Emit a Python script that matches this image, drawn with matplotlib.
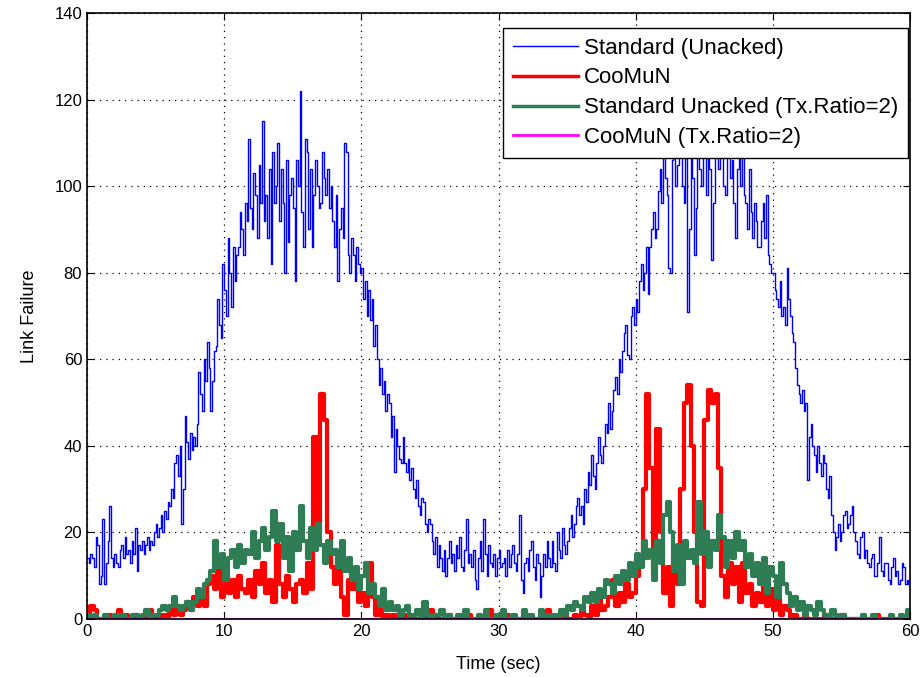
import numpy as np
import matplotlib
matplotlib.use('Agg')
import matplotlib.pyplot as plt

# Standard (Unacked): samples every 0.125 s, 0 .. 59.875 s (one row = 5 s)
standard = [14, 13, 15, 14, 12, 19, 17, 8, 10, 23, 8, 13, 18, 26, 14, 12, 15, 13, 12, 16, 17, 14, 19, 15,
            16, 13, 18, 15, 21, 11, 17, 16, 18, 15, 17, 19, 16, 18, 17, 20,
            22, 19, 21, 24, 20, 25, 23, 27, 26, 30, 28, 36, 38, 33, 40, 22, 30, 47, 41, 37, 43, 39, 42, 40,
            45, 57, 52, 48, 60, 55, 64, 58, 48, 55, 62, 63, 74, 68, 65, 82,
            76, 70, 88, 80, 72, 86, 78, 84, 86, 94, 90, 84, 96, 92, 111, 95, 90, 103, 98, 88, 105, 96, 115, 92,
            98, 88, 104, 82, 108, 96, 100, 110, 92, 104, 96, 80, 106, 87, 98, 102,
            95, 78, 106, 100, 122, 94, 86, 111, 108, 90, 104, 86, 98, 106, 100, 95, 96, 108, 102, 98, 104, 95, 100, 92,
            86, 98, 78, 90, 95, 88, 110, 108, 84, 80, 88, 84, 78, 86, 82, 80,
            81, 74, 78, 70, 76, 69, 74, 63, 68, 60, 54, 58, 52, 55, 48, 52, 50, 42, 47, 34, 44, 40, 37, 36,
            42, 36, 34, 37, 32, 35, 30, 28, 32, 26, 24, 28, 27, 22, 20, 23,
            22, 18, 15, 19, 12, 17, 14, 11, 16, 10, 14, 18, 13, 15, 11, 17, 14, 19, 12, 11, 16, 23, 13, 15,
            12, 16, 9, 7, 14, 18, 11, 23, 15, 10, 17, 13, 12, 15, 10, 14,
            16, 12, 13, 14, 10, 16, 12, 15, 17, 13, 11, 15, 24, 9, 6, 13, 14, 11, 16, 18, 12, 9, 15, 13,
            5, 10, 15, 12, 18, 14, 12, 18, 13, 11, 20, 16, 14, 21, 17, 15,
            18, 21, 24, 19, 22, 26, 28, 24, 26, 22, 30, 27, 34, 31, 38, 33, 30, 36, 42, 38, 36, 40, 45, 43,
            50, 44, 48, 53, 56, 52, 60, 57, 62, 66, 68, 61, 60, 70, 72, 68,
            74, 71, 78, 82, 76, 80, 86, 75, 86, 90, 94, 88, 90, 99, 104, 96, 110, 102, 98, 81, 80, 106, 112, 100,
            105, 112, 115, 100, 96, 108, 71, 90, 110, 102, 84, 95, 118, 104, 100, 110,
            108, 98, 112, 104, 83, 96, 116, 110, 104, 112, 118, 100, 98, 108, 112, 102, 106, 96, 88, 104, 114, 100, 108, 98,
            96, 90, 104, 94, 88, 96, 92, 86, 86, 92, 96, 88, 98, 84, 82, 80,
            80, 76, 74, 72, 78, 70, 72, 68, 81, 74, 70, 66, 64, 58, 54, 52, 50, 53, 48, 50, 32, 42, 45, 40,
            38, 34, 40, 36, 33, 38, 36, 30, 28, 33, 24, 20, 16, 19, 22, 18,
            20, 24, 25, 21, 22, 24, 26, 20, 18, 15, 14, 19, 20, 14, 16, 13, 12, 14, 15, 10, 10, 13, 19, 11,
            10, 13, 13, 9, 8, 12, 14, 10, 11, 8, 9, 13, 12, 8, 9, 8]

# the other series: samples every 0.25 s, 0 .. 59.75 s
coomun = [1, 3, 2, 0, 0, 0, 1, 0, 0, 2, 1, 1, 0, 0, 1, 0, 0, 1, 2, 0,
          0, 0, 1, 0, 2, 1, 3, 1, 2, 4, 2, 5, 3, 5, 3, 8, 10, 7, 11, 5,
          8, 6, 9, 5, 10, 7, 6, 9, 5, 11, 8, 13, 6, 9, 4, 17, 8, 5, 10, 7,
          4, 8, 9, 6, 13, 7, 42, 20, 52, 46, 20, 12, 8, 14, 5, 1, 9, 7, 10, 4,
          6, 3, 13, 5, 1, 3, 0, 1, 0, 1, 0, 0, 1, 0, 0, 0, 0, 0, 1, 0,
          2, 0, 0, 0, 0, 1, 0, 0, 0, 0, 0, 1, 0, 0, 0, 0, 0, 2, 0, 0,
          0, 0, 1, 0, 0, 0, 0, 0, 1, 0, 0, 0, 0, 0, 2, 0, 0, 0, 0, 1,
          0, 0, 1, 0, 2, 1, 0, 3, 1, 6, 2, 3, 5, 9, 3, 6, 4, 8, 5, 6,
          10, 13, 30, 52, 35, 12, 44, 20, 6, 12, 3, 15, 8, 30, 50, 54, 40, 20, 4, 3,
          46, 53, 50, 52, 35, 10, 5, 13, 8, 12, 4, 13, 6, 8, 3, 6, 4, 9, 3, 7,
          2, 5, 1, 3, 2, 0, 1, 0, 0, 1, 0, 0, 0, 0, 0, 1, 0, 0, 0, 0,
          1, 0, 0, 0, 0, 0, 0, 0, 0, 0, 1, 0, 0, 0, 0, 0, 0, 0, 0, 1]

standard_tx2 = [1, 0, 1, 0, 0, 1, 0, 0, 1, 0, 1, 0, 0, 1, 1, 0, 1, 2, 0, 1,
                1, 2, 3, 2, 3, 5, 3, 2, 3, 4, 2, 4, 7, 5, 8, 9, 11, 18, 12, 15,
                9, 14, 16, 12, 17, 13, 16, 15, 20, 14, 18, 21, 16, 19, 25, 18, 22, 14, 19, 11,
                20, 16, 26, 18, 14, 21, 16, 22, 17, 13, 18, 15, 16, 12, 18, 11, 14, 9, 12, 7,
                10, 13, 6, 8, 5, 3, 7, 2, 4, 2, 3, 1, 2, 3, 1, 1, 2, 0, 4, 1,
                0, 1, 1, 2, 0, 1, 0, 0, 1, 0, 2, 0, 0, 0, 1, 0, 2, 0, 0, 1,
                0, 2, 0, 0, 1, 0, 0, 2, 0, 1, 0, 0, 2, 0, 1, 0, 1, 0, 2, 1,
                3, 2, 4, 3, 2, 5, 4, 6, 4, 7, 5, 9, 8, 6, 10, 8, 11, 9, 13, 10,
                15, 12, 18, 14, 16, 9, 18, 13, 24, 27, 20, 11, 17, 8, 18, 14, 16, 13, 27, 15,
                20, 12, 18, 16, 24, 19, 12, 18, 14, 20, 16, 18, 12, 15, 10, 13, 8, 14, 6, 12,
                10, 5, 13, 8, 6, 3, 5, 2, 4, 1, 3, 2, 1, 4, 2, 1, 0, 2, 1, 0,
                1, 0, 0, 0, 0, 0, 1, 0, 0, 1, 0, 0, 0, 0, 1, 0, 0, 1, 0, 2]

coomun_tx2 = [0] * 240

plt.rcParams['font.family'] = ['Liberation Sans', 'DejaVu Sans']

fig = plt.figure(figsize=(9.23, 6.77), dpi=100)
ax = fig.add_axes([0.0943, 0.0857, 0.8917, 0.895])

series = [(standard, 'Standard (Unacked)', '#0000FF', 1.0),
          (coomun, 'CooMuN', '#FF0000', 3.0),
          (standard_tx2, 'Standard Unacked (Tx.Ratio=2)', '#2E7D55', 3.0),
          (coomun_tx2, 'CooMuN (Tx.Ratio=2)', '#FF00FF', 2.0)]
for vals, name, col, lw in series:
    t = np.linspace(0, 60, len(vals) + 1)
    ax.step(t, list(vals) + [vals[-1]], where='post', color=col, lw=lw, label=name)

ax.set_xlim(0, 60)
ax.set_ylim(0, 140)
ax.set_xticks(range(0, 61, 10))
ax.set_yticks(range(0, 141, 20))
ax.grid(True, color='black', linestyle=(0, (1, 4)), linewidth=0.9)
ax.tick_params(direction='in', top=True, right=True, labelsize=12, length=5)
for s in ax.spines.values():
    s.set_linewidth(1.2)

ax.set_xlabel('Time (sec)', fontsize=13, labelpad=12)
ax.set_ylabel('Link Failure', fontsize=13, labelpad=12)

leg = ax.legend(loc='upper right', bbox_to_anchor=(0.998, 0.976), borderaxespad=0,
                fontsize=16, fancybox=False, framealpha=1, edgecolor='black',
                handlelength=2.9, handletextpad=0.3, labelspacing=0.4, borderpad=0.45)
leg.get_frame().set_linewidth(1.0)
for ln in leg.get_lines():
    ln.set_linewidth(min(ln.get_linewidth(), 2.5))

fig.savefig('out.png', dpi=100)
